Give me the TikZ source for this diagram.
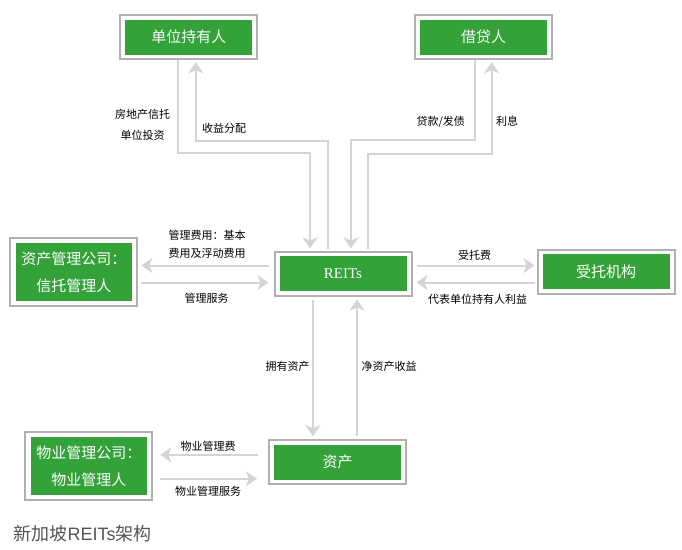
\documentclass[tikz,border=0pt]{standalone}
\usepackage{fontspec}
\setmainfont{Noto Sans CJK SC}
\newfontfamily\reitsfont{Liberation Serif}
\newfontfamily\titlefont{Liberation Sans}
\usetikzlibrary{arrows.meta}

\definecolor{boxgreen}{RGB}{51,163,57}
\definecolor{framegray}{RGB}{176,176,176}
\definecolor{flowgray}{RGB}{212,212,212}
\definecolor{titlegray}{RGB}{85,85,85}

\begin{document}
\begin{tikzpicture}[x=1pt, y=-1pt,
  frame/.style={draw=framegray, line width=2pt, minimum width=137pt, minimum height=44pt, inner sep=0pt},
  tallframe/.style={frame, minimum width=127pt, minimum height=68pt},
  panel/.style={fill=boxgreen, text=white, minimum width=127pt, minimum height=35pt, inner sep=0pt, align=center, font=\fontsize{15}{27}\selectfont},
  tallpanel/.style={panel, minimum width=116pt, minimum height=58pt},
  flow/.style={draw=flowgray, line width=2pt, -{Stealth[length=11pt, width=15pt, inset=3pt]}},
  note/.style={align=center, font=\fontsize{11}{14}\selectfont}
]

\useasboundingbox (0,0) rectangle (682,549);

% boxes
\node[frame] (holder) at (188.8,37.2) {};
\node[panel] (holder label) at (holder) {单位持有人};

\node[frame] (lender) at (483.7,37.2) {};
\node[panel] (lender label) at (lender) {借贷人};

\node[tallframe] (manager) at (73.8,272.3) {};
\node[tallpanel] (manager label) at (manager) {资产管理公司：\\信托管理人};

\node[frame] (reits) at (343,273.5) {};
\node[panel, font=\reitsfont\fontsize{15}{17}\selectfont] (reits label) at (reits) {REITs};

\node[frame] (trustee) at (606,271.7) {};
\node[panel] (trustee label) at (trustee) {受托机构};

\node[tallframe] (pm) at (88.8,465.8) {};
\node[tallpanel] (pm label) at (pm) {物业管理公司：\\物业管理人};

\node[frame] (assets) at (337.5,462.2) {};
\node[panel] (assets label) at (assets) {资产};

% holders and lenders
\draw[flow, shorten >=2pt] ([xshift=-11pt]holder.south) -- ++(0,93) -| ([xshift=-33pt]reits.north);
\draw[flow, shorten <=2pt, shorten >=2pt] ([xshift=-15pt]reits.north) -- ++(0,-110) -| ([xshift=7pt]holder.south);
\draw[flow, shorten >=2pt] ([xshift=-9pt]lender.south) -- ++(0,80) -| ([xshift=8pt]reits.north);
\draw[flow, shorten <=2pt, shorten >=2pt] ([xshift=25pt]reits.north) -- ++(0,-97) -| ([xshift=8pt]lender.south);

% manager and trustee
\draw[flow, shorten <=5pt, shorten >=3pt] ([yshift=8pt]reits.west) -- ([yshift=8pt]reits.west -| manager.east);
\draw[flow, shorten <=3pt, shorten >=5pt] ([yshift=-9pt]reits.west -| manager.east) -- ([yshift=-9pt]reits.west);
\draw[flow, shorten <=4pt, shorten >=2pt] ([yshift=8pt]reits.east) -- ([yshift=8pt]reits.east -| trustee.west);
\draw[flow, shorten <=2pt, shorten >=4pt] ([yshift=-9pt]reits.east -| trustee.west) -- ([yshift=-9pt]reits.east);

% assets
\draw[flow, shorten <=3pt, shorten >=3pt] ([xshift=-30pt]reits.south) -- ([xshift=-30pt]reits.south |- assets.north);
\draw[flow, shorten <=3pt, shorten >=3pt] ([xshift=14pt]reits.south |- assets.north) -- ([xshift=14pt]reits.south);
\draw[flow, shorten <=10pt, shorten >=7pt] ([yshift=11pt]pm.east -| assets.west) -- ([yshift=11pt]pm.east);
\draw[flow, shorten <=7pt, shorten >=11pt] ([yshift=-13pt]pm.east) -- ([yshift=-13pt]pm.east -| assets.west);

% labels
\node[note] (invest) at (142.5,124.7) {房地产信托\\[7pt]单位投资};
\node[note] (payout) at (224,128.3) {收益分配};
\node[note] (loan) at (440.7,121.7) {贷款/发债};
\node[note] (interest) at (507,121.7) {利息};
\node[note] (fee) at (207,244.2) {管理费用：基本\\[4.3pt]费用及浮动费用};
\node[note] (service) at (206.7,298.3) {管理服务};
\node[note] (trustfee) at (474.7,255) {受托费};
\node[note] (behalf) at (477.5,299.3) {代表单位持有人利益};
\node[note] (own) at (287.5,366.7) {拥有资产};
\node[note] (netincome) at (389,366.7) {净资产收益};
\node[note] (pmfee) at (208,446.7) {物业管理费};
\node[note] (pmservice) at (208,491.7) {物业管理服务};

\node[anchor=west, text=titlegray, font=\fontsize{18}{21}\selectfont] (title) at (10,533.3) {新加坡{\titlefont REITs}架构};

\end{tikzpicture}
\end{document}
